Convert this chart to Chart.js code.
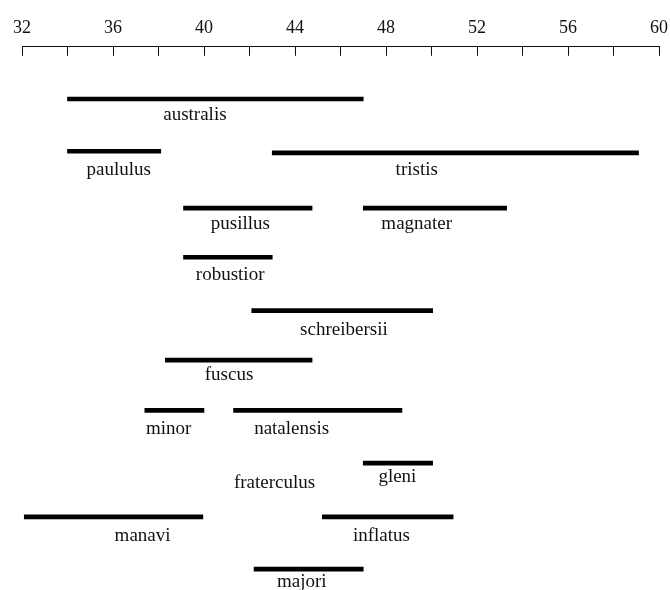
<!DOCTYPE html>
<html>
<head>
<meta charset="utf-8">
<script src="https://cdn.jsdelivr.net/npm/chart.js@4/dist/chart.umd.min.js"></script>
<style>
  html, body { margin: 0; padding: 0; background: #fff; }
</style>
</head>
<body>
<canvas id="chart" width="670" height="590"></canvas>
<script>
// range bars: one entry per segment, row 0 is the top row
const barNames = ["australis", "paululus", "tristis", "pusillus", "magnater", "robustior",
  "schreibersii", "fuscus", "minor", "natalensis", "gleni", "manavi", "inflatus", "majori"];
const barStart = [34, 34, 43, 39.1, 47, 39.1, 42.1, 38.3, 37.4, 41.3, 47, 32.1, 45.2, 42.2];
const barEnd = [47, 38.1, 59.1, 44.75, 53.3, 43, 50.05, 44.75, 40, 48.7, 50.05, 39.95, 50.95, 47];
const barRow = [0, 1, 1.03, 2.09, 2.09, 3.03, 4.05, 5, 5.96, 5.96, 6.97, 8, 8, 9];

// species names, placed on their own (fraterculus has no bar)
const labelNames = ["australis", "paululus", "tristis", "pusillus", "magnater", "robustior",
  "schreibersii", "fuscus", "minor", "natalensis", "fraterculus", "gleni", "manavi", "inflatus", "majori"];
const labelX = [39.6, 36.25, 49.35, 41.6, 49.35, 41.15, 46.15, 41.1, 38.45, 43.85, 43.1, 48.5, 37.3, 47.8, 44.3];
const labelRow = [0.4, 1.46, 1.46, 2.48, 2.48, 3.47, 4.52, 5.38, 6.42, 6.42, 7.45, 7.33, 8.46, 8.47, 9.35];

const tickLabels = [32, 36, 40, 44, 48, 52, 56, 60];

const FONT = "'Liberation Serif', 'Times New Roman', serif";

const speciesLabels = {
  id: "speciesLabels",
  afterDatasetsDraw(chart) {
    const { ctx, scales: { x, y } } = chart;
    ctx.save();
    ctx.font = `19px ${FONT}`;
    ctx.fillStyle = "#111";
    ctx.textAlign = "center";
    ctx.textBaseline = "alphabetic";
    labelNames.forEach((name, i) => {
      ctx.fillText(name, x.getPixelForValue(labelX[i]), y.getPixelForValue(labelRow[i]));
    });
    ctx.restore();
  },
};

new Chart(document.getElementById("chart"), {
  type: "bar",
  data: {
    datasets: [{
      data: barNames.map((n, i) => ({ x: [barStart[i], barEnd[i]], y: barRow[i] })),
      backgroundColor: "#000",
      borderWidth: 0,
      barThickness: 4,
    }],
  },
  options: {
    indexAxis: "y",
    responsive: false,
    animation: false,
    layout: { padding: { left: 22, right: 11, top: 0, bottom: 0 } },
    plugins: {
      legend: { display: false },
      tooltip: { enabled: false },
    },
    scales: {
      x: {
        type: "linear",
        position: "top",
        min: 32,
        max: 60,
        grid: {
          drawOnChartArea: false,
          drawTicks: true,
          tickLength: -9,
          color: "#111",
          lineWidth: 1,
        },
        border: { display: true, color: "#111", width: 1 },
        ticks: {
          stepSize: 2,
          autoSkip: false,
          maxRotation: 0,
          padding: 0,
          color: "#111",
          font: { family: FONT, size: 18, lineHeight: 3.1 },
          callback: (v) => (tickLabels.includes(v) ? String(v) : ""),
        },
      },
      y: {
        type: "linear",
        display: false,
        offset: false,
        reverse: true,
        min: -1,
        max: 9.4,
      },
    },
  },
  plugins: [speciesLabels],
});
</script>
</body>
</html>
